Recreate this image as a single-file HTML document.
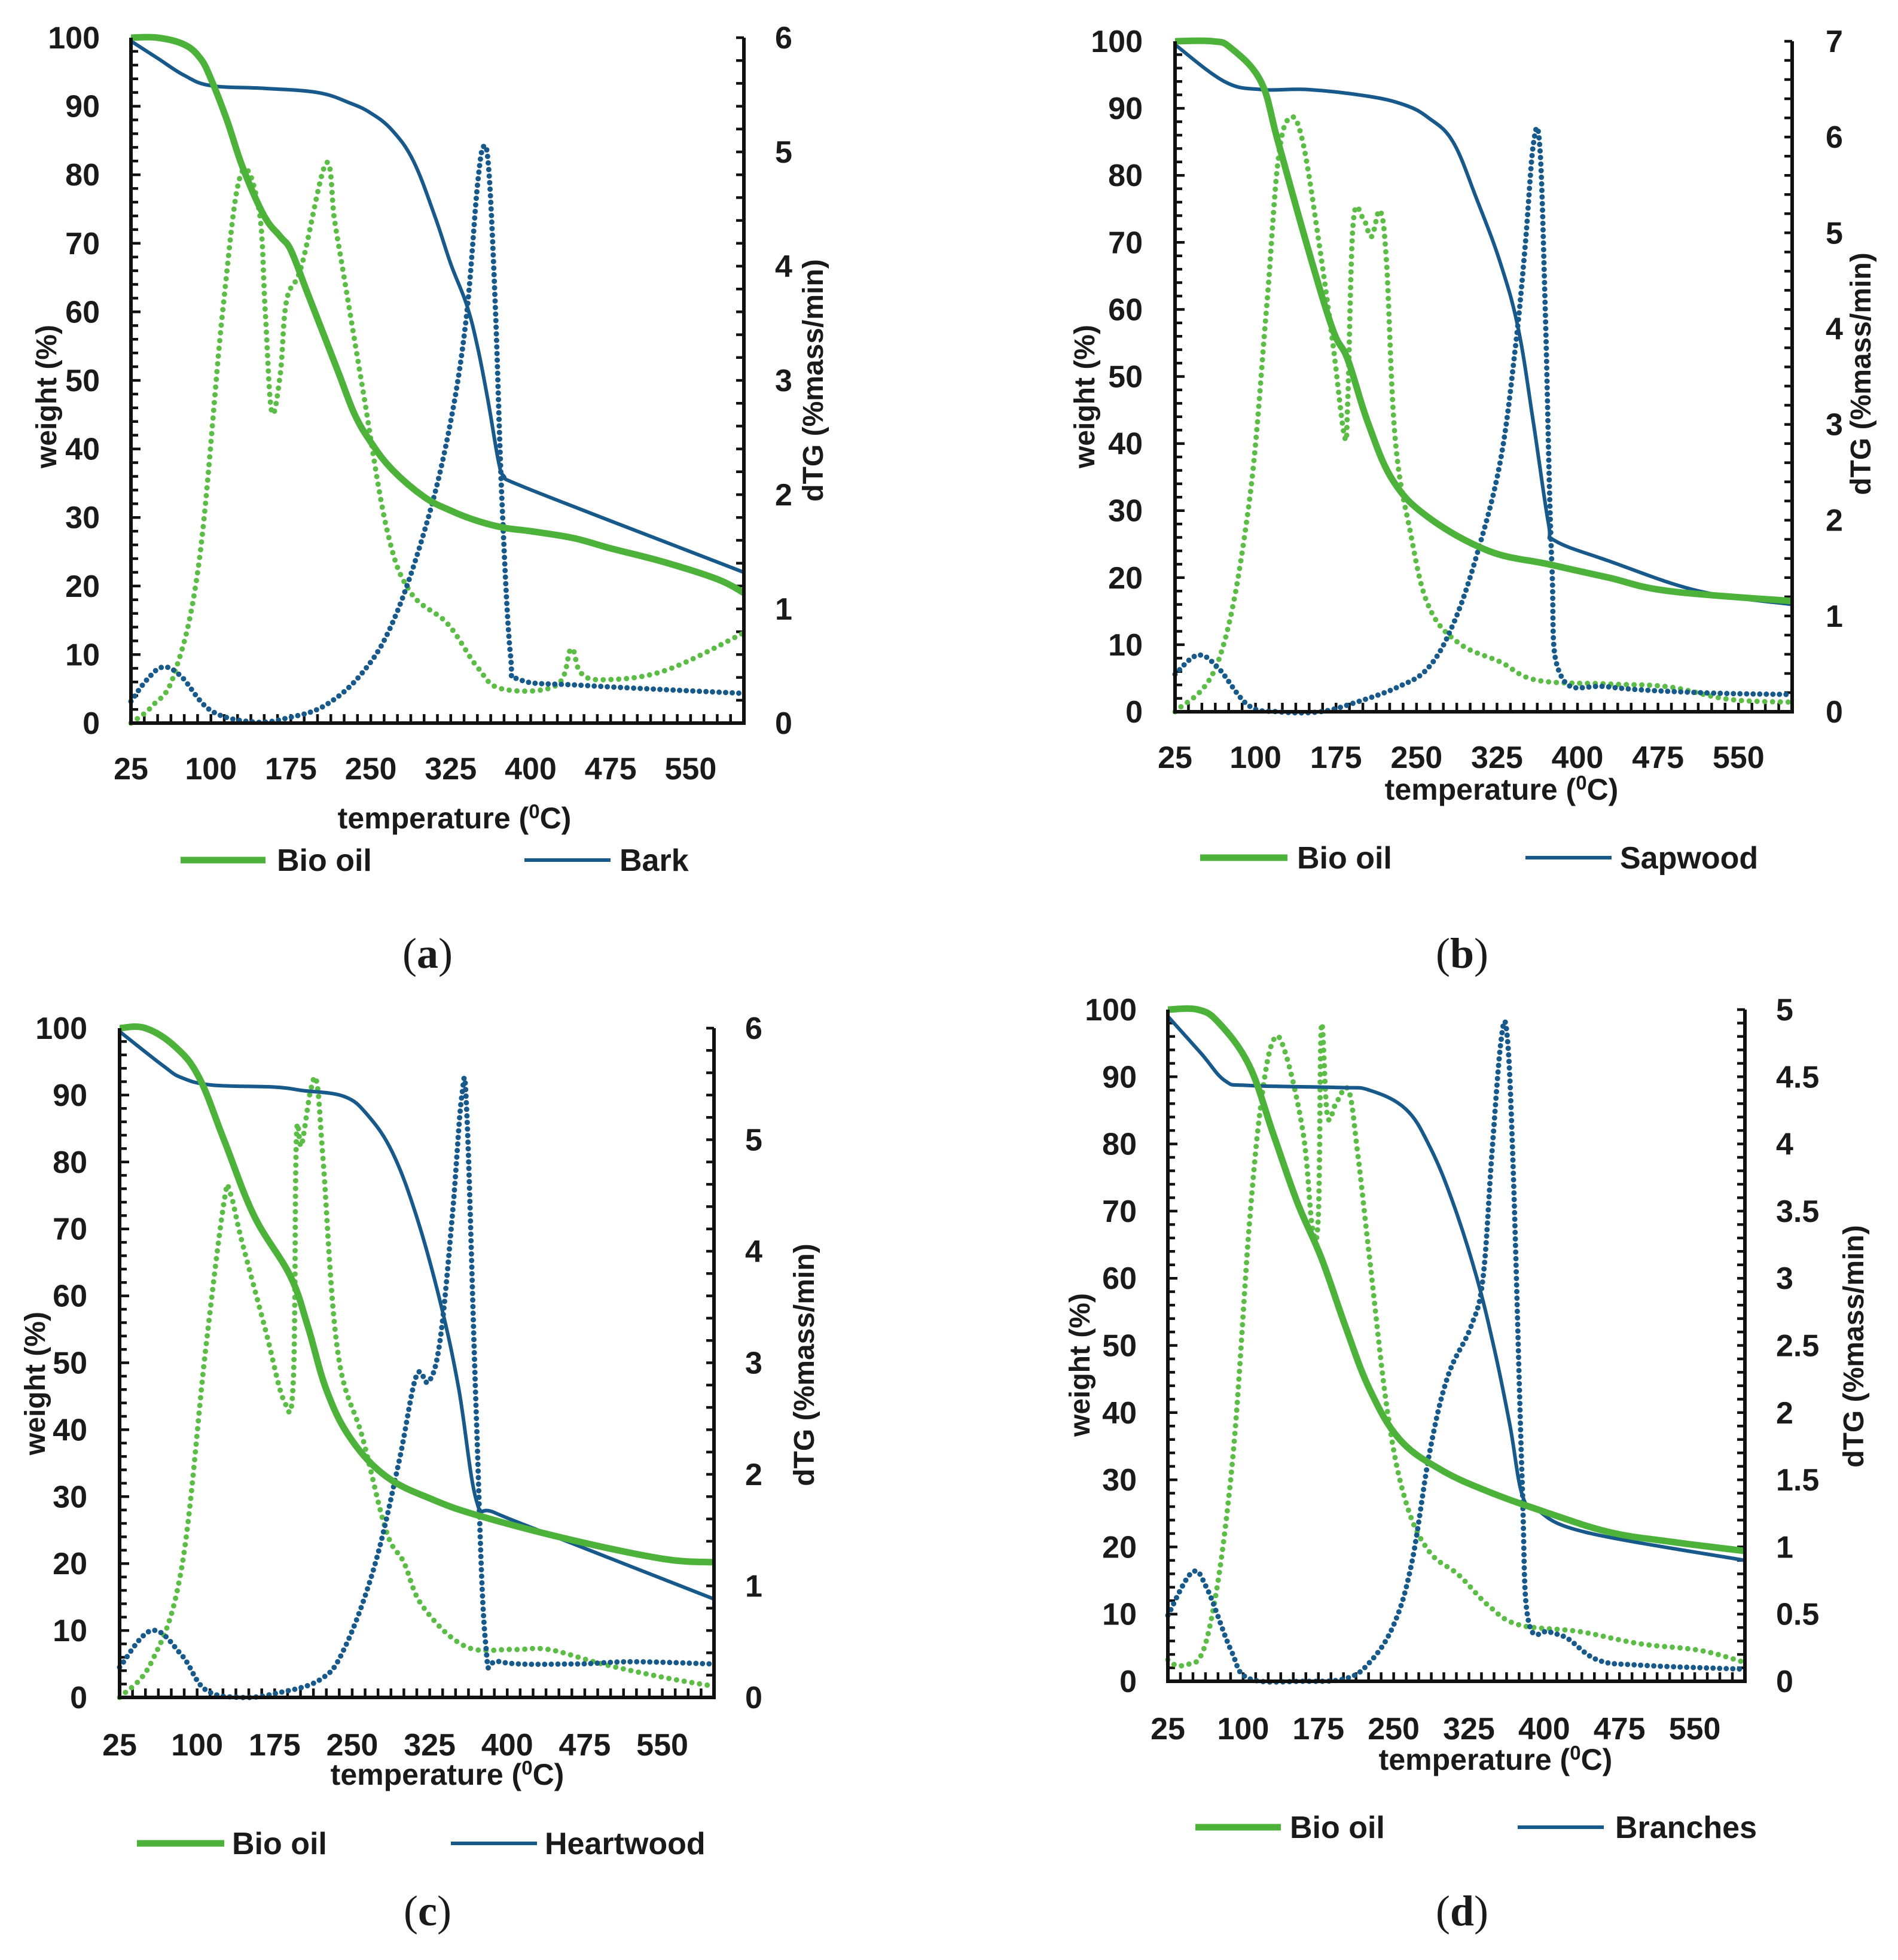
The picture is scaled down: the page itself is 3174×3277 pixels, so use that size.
<!DOCTYPE html>
<html><head><meta charset="utf-8">
<style>
html,body{margin:0;padding:0;background:#fff;}
svg{display:block;}
text{font-family:"Liberation Sans",Arial,sans-serif;font-weight:bold;fill:#1a1a1a;}
.cap{font-family:"Liberation Serif",serif;font-weight:normal;font-size:72px;}
</style></head>
<body>
<svg id="fig" width="3174" height="3277" viewBox="0 0 3174 3277" xmlns="http://www.w3.org/2000/svg"></svg>
<script>
// ---------- Panel (a) Bark ----------
const a_bioTG_T = [25,50,75,90,100,115,130,150,165,175,190,205,220,235,250,270,300,325,350,375,400,440,475,525,575,600];
const a_bioTG_V = [100,100,99,97,94,88,81,74,71,69,63,57,51,45,41,37,33,31,29.5,28.5,28,27,25.5,23.5,21,19];
const a_bmTG_T = [25,50,75,100,150,200,230,250,270,290,310,325,340,350,360,370,375,385,450,525,600];
const a_bmTG_V = [99.5,97,94.5,93,92.6,92,90.5,89,86.5,82,74,67,61,55,47,38,36,35,31,26.5,22];
const a_bioDTG_T = [25,45,66,89,111,128,145,151,157,165,171,185,208,216,225,242,265,287,322,350,373,424,438,447,469,526,600];
const a_bioDTG_V = [0,0.15,0.44,1.42,3.6,4.8,4.5,3.6,2.73,3.05,3.7,4.0,4.9,4.4,3.9,2.95,1.7,1.15,0.87,0.49,0.3,0.33,0.65,0.44,0.38,0.46,0.79];
const a_bmDTG_T = [25,40,55,72,100,140,174,208,242,270,299,322,339,350,356,361,367,373,381,390,450,600];
const a_bmDTG_V = [0.19,0.38,0.49,0.41,0.11,0.01,0.05,0.16,0.44,0.87,1.64,2.5,3.5,4.7,5.05,4.8,3.6,1.96,0.6,0.38,0.33,0.26];
// ---------- Panel (b) Sapwood ----------
const b_bioTG_T = [25,60,77,105,121,149,172,186,205,228,261,317,373,429,485,600];
const b_bioTG_V = [100,100,99,94,85,69,57,52.5,43,34.5,29,24,22,20,18,16.5];
const b_bmTG_T = [25,71,105,149,205,239,261,284,306,328,345,359,373,379,429,513,600];
const b_bmTG_V = [99.5,94,92.8,92.8,91.8,90.5,88.6,85,76.5,67,57,43,28,25.5,22.5,18,16];
const b_bioDTG_T = [25,65,93,110,121,132,144,160,172,183,186,191,200,208,216,222,230,244,261,289,328,362,429,485,541,600];
const b_bioDTG_V = [0,0.52,2.09,4.18,5.75,6.2,5.95,4.83,3.85,2.87,3.27,5.1,5.16,4.96,5.23,4.7,2.87,1.89,1.11,0.72,0.52,0.33,0.29,0.26,0.13,0.1];
const b_bmDTG_T = [25,46,65,93,121,160,194,233,261,284,306,328,342,351,359,365,370,376,384,429,513,600];
const b_bmDTG_V = [0.39,0.59,0.46,0.07,0,0,0.1,0.26,0.46,0.91,1.63,2.61,3.79,4.83,5.94,5.88,4.18,1.57,0.39,0.26,0.2,0.18];
// ---------- Panel (c) Heartwood ----------
const c_bioTG_T = [25,50,79,102,126,155,190,207,225,248,283,329,376,463,551,600];
const c_bioTG_V = [100,100,97.2,92.6,83.3,72,63,55.5,46,38.8,33,29.5,27,23.5,20.7,20.2];
const c_bmTG_T = [25,67,85,114,175,201,242,265,289,312,335,353,370,388,463,600];
const c_bmTG_V = [99.5,94.4,92.6,91.5,91.2,90.7,89.8,87,81.4,72,59.2,46.2,29.5,27.6,23,14.7];
const c_bioDTG_T = [25,56,85,108,126,132,143,166,184,193,196,201,210,216,222,236,260,283,300,318,359,405,440,492,551,600];
const c_bioDTG_V = [0,0.32,1.16,3.1,4.44,4.52,4.1,3.3,2.66,2.83,5.0,4.95,5.45,5.5,4.8,3.1,2.33,1.49,1.21,0.82,0.46,0.43,0.43,0.3,0.18,0.1];
const c_bmDTG_T = [25,56,85,108,143,178,219,242,271,295,312,324,335,347,356,361,370,379,393,463,521,600];
const c_bmDTG_V = [0.27,0.6,0.38,0.07,0,0.04,0.16,0.43,1.16,2.1,2.88,2.83,3.2,4.33,5.39,5.22,2.55,0.49,0.32,0.3,0.32,0.3];
// ---------- Panel (d) Branches ----------
const d_bioTG_T = [25,55,76,106,130,154,178,202,226,256,297,345,405,465,525,600];
const d_bioTG_V = [100,100,98,91.7,81.5,71.3,63,52.8,43.5,36,31.5,28.2,25,22.2,20.8,19.4];
const d_bmTG_T = [25,58,82,106,196,226,262,286,309,333,351,366,378,393,441,600];
const d_bmTG_V = [99,93.5,89.4,88.7,88.4,88,85.2,79.6,71.3,60,49,38,27.8,25.5,22.2,18];
const d_bioDTG_T = [25,40,64,88,106,118,130,142,160,169,175,178,184,193,205,214,226,244,262,285,315,345,375,435,495,555,600];
const d_bioDTG_V = [0.16,0.12,0.32,1.53,3.38,4.31,4.77,4.68,4.07,3.38,3.47,4.88,4.21,4.31,4.4,3.94,3.15,2.0,1.34,0.97,0.79,0.56,0.42,0.37,0.28,0.23,0.14];
const d_bmDTG_T = [25,49,64,88,106,160,202,226,250,268,286,304,327,339,348,357,363,369,378,384,405,423,453,495,600];
const d_bmDTG_V = [0.49,0.81,0.69,0.23,0.02,0,0.02,0.14,0.42,0.88,1.71,2.27,2.64,3.0,3.94,4.77,4.81,3.84,1.5,0.46,0.37,0.32,0.16,0.12,0.09];

const xTickLabels = [25,100,175,250,325,400,475,550];
const yTickLabels = [0,10,20,30,40,50,60,70,80,90,100];
const dTickA = ["0","1","2","3","4","5","6"];
const dTickB = ["0","1","2","3","4","5","6","7"];
const dTickD = ["0","0.5","1","1.5","2","2.5","3","3.5","4","4.5","5"];

const NS = "http://www.w3.org/2000/svg";
const svg = document.getElementById('fig');
const GREEN = "#4cb23a", GREEN_D = "#5cbd46", BLUE = "#16598a";
function mk(tag, attrs, parent){
  const e = document.createElementNS(NS, tag);
  for (const k in attrs) e.setAttribute(k, attrs[k]);
  (parent||svg).appendChild(e);
  return e;
}
// smooth Catmull-Rom path through mapped points
function pathFrom(T, V, sx, sy){
  const P = T.map((t,i)=>[sx(t), sy(V[i])]);
  let d = "M"+P[0][0].toFixed(1)+" "+P[0][1].toFixed(1);
  for (let i=0;i<P.length-1;i++){
    const p0=P[Math.max(0,i-1)], p1=P[i], p2=P[i+1], p3=P[Math.min(P.length-1,i+2)];
    const k=0.18;
    const c1=[p1[0]+(p2[0]-p0[0])*k, p1[1]+(p2[1]-p0[1])*k];
    const c2=[p2[0]-(p3[0]-p1[0])*k, p2[1]-(p3[1]-p1[1])*k];
    d += "C"+c1[0].toFixed(1)+" "+c1[1].toFixed(1)+" "+c2[0].toFixed(1)+" "+c2[1].toFixed(1)+" "+p2[0].toFixed(1)+" "+p2[1].toFixed(1);
  }
  return d;
}
const panels = [
 {id:"a", name:"Bark", L:219,R:1244,T:63,B:1209, dmax:6, dStep:0.2, dTicks:dTickA, dVal:1,
  xLabY:1303, titleX:760, titleY:1385, legY:1438, gl:[302,444], gt:463, bl:[877,1021], bt:1036,
  capX:715, capY:1618, ylR:167, dlL:1296, ltX:77, ltY:663, rtX:1359, rtY:636,
  data:[a_bioTG_T,a_bioTG_V,a_bmTG_T,a_bmTG_V,a_bioDTG_T,a_bioDTG_V,a_bmDTG_T,a_bmDTG_V]},
 {id:"b", name:"Sapwood", L:1965,R:2997,T:69,B:1190, dmax:7, dStep:0.2, dTicks:dTickB, dVal:1,
  xLabY:1284, titleX:2511, titleY:1337, legY:1434, gl:[2007,2153], gt:2169, bl:[2551,2695], bt:2709,
  capX:2445, capY:1618, ylR:1911, dlL:3053, ltX:1813, ltY:663, rtX:3111, rtY:625,
  data:[b_bioTG_T,b_bioTG_V,b_bmTG_T,b_bmTG_V,b_bioDTG_T,b_bioDTG_V,b_bmDTG_T,b_bmDTG_V]},
 {id:"c", name:"Heartwood", L:200,R:1194,T:1719,B:2838, dmax:6, dStep:0.2, dTicks:dTickA, dVal:1,
  xLabY:2935, titleX:748, titleY:2984, legY:3082, gl:[229,375], gt:388, bl:[754,898], bt:911,
  capX:715, capY:3219, ylR:146, dlL:1246, ltX:58, ltY:2313, rtX:1344, rtY:2282,
  data:[c_bioTG_T,c_bioTG_V,c_bmTG_T,c_bmTG_V,c_bioDTG_T,c_bioDTG_V,c_bmDTG_T,c_bmDTG_V]},
 {id:"d", name:"Branches", L:1953,R:2918,T:1688,B:2811, dmax:5, dStep:0.1, dTicks:dTickD, dVal:0.5,
  xLabY:2908, titleX:2501, titleY:2959, legY:3055, gl:[1999,2142], gt:2157, bl:[2538,2682], bt:2701,
  capX:2445, capY:3219, ylR:1901, dlL:2970, ltX:1805, ltY:2282, rtX:3099, rtY:2251,
  data:[d_bioTG_T,d_bioTG_V,d_bmTG_T,d_bmTG_V,d_bioDTG_T,d_bioDTG_V,d_bmDTG_T,d_bmDTG_V]}
];

panels.forEach(p=>{
  const g = mk('g',{});
  
  
  const sx = t => p.L + (t-25)/575*(p.R-p.L);
  const sy = w => p.B - w/100*(p.B-p.T);
  const sd = v => p.B - v/p.dmax*(p.B-p.T);

  let tk = "";
  for (let t=25; t<=600.01; t+=12.5){ const x=sx(t); tk += `M${x} ${p.B}V${p.B-15}`; }
  for (let w=0; w<=100.01; w+=2){ const y=sy(w); tk += `M${p.L} ${y}H${p.L+(w%10===0?16:12)}`; }
  for (let v=0; v<=p.dmax+0.001; v+=p.dStep){ const y=sd(v); tk += `M${p.R} ${y}H${p.R-13}`; }
  const ticks = mk('path',{d:tk, stroke:"#111", "stroke-width":4.5, fill:"none"}, g);
  
  

  const [t1,v1,t2,v2,t3,v3,t4,v4] = p.data;
  const bioD = mk('path',{d:pathFrom(t3,v3,sx,sd), stroke:GREEN_D, "stroke-width":9, fill:"none", "stroke-dasharray":"0 13", "stroke-linecap":"round"}, g);
  
  
  const bmD = mk('path',{d:pathFrom(t4,v4,sx,sd), stroke:BLUE, "stroke-width":9, fill:"none", "stroke-dasharray":"0 11", "stroke-linecap":"round"}, g);
  
  
  const bmT = mk('path',{d:pathFrom(t2,v2,sx,sy), stroke:BLUE, "stroke-width":6, fill:"none", "stroke-linejoin":"round"}, g);
  
  
  const bioT = mk('path',{d:pathFrom(t1,v1,sx,sy), stroke:GREEN, "stroke-width":11, fill:"none", "stroke-linejoin":"round"}, g);
  
  

  const ax = mk('path',{d:`M${p.L} ${p.T}V${p.B}H${p.R}V${p.T}`, stroke:"#111", "stroke-width":6, fill:"none"}, g);
  
  

  xTickLabels.forEach(t=>{
    const e = mk('text',{x:sx(t), y:p.xLabY, "font-size":52, "text-anchor":"middle"}, g);
    e.textContent = t;
    
    
  });
  yTickLabels.forEach(w=>{
    const e = mk('text',{x:p.ylR, y:sy(w)+18, "font-size":52, "text-anchor":"end"}, g);
    e.textContent = w;
    
    
  });
  p.dTicks.forEach((s,i)=>{
    const e = mk('text',{x:p.dlL, y:sd(i*p.dVal)+18, "font-size":52, "text-anchor":"start"}, g);
    e.textContent = s;
    
    
  });
  const xt = mk('text',{x:p.titleX, y:p.titleY, "font-size":50, "text-anchor":"middle"}, g);
  xt.innerHTML = 'temperature (<tspan dy="-17" font-size="33">0</tspan><tspan dy="17">C)</tspan>';
  
  
  const lt = mk('text',{x:p.ltX, y:p.ltY, "font-size":48, "text-anchor":"middle", transform:`rotate(-90 ${p.ltX} ${p.ltY})`, dy:17}, g);
  lt.textContent = 'weight (%)';
  
  
  const rt = mk('text',{x:p.rtX, y:p.rtY, "font-size":48, "text-anchor":"middle", transform:`rotate(-90 ${p.rtX} ${p.rtY})`, dy:17}, g);
  rt.textContent = 'dTG (%mass/min)';
  
  

  const l1 = mk('line',{x1:p.gl[0],x2:p.gl[1],y1:p.legY,y2:p.legY,stroke:GREEN,"stroke-width":11}, g);
  
  
  const l1t = mk('text',{x:p.gt, y:p.legY+18, "font-size":52}, g);
  l1t.textContent = 'Bio oil';
  
  
  const l2 = mk('line',{x1:p.bl[0],x2:p.bl[1],y1:p.legY,y2:p.legY,stroke:BLUE,"stroke-width":6}, g);
  
  
  const l2t = mk('text',{x:p.bt, y:p.legY+18, "font-size":52}, g);
  l2t.textContent = p.name;
  
  

  const cap = mk('text',{x:p.capX, y:p.capY, "text-anchor":"middle", class:"cap"}, g);
  cap.innerHTML = '(<tspan font-weight="bold">'+p.id+'</tspan>)';
  
  
});
</script>
</body></html>
